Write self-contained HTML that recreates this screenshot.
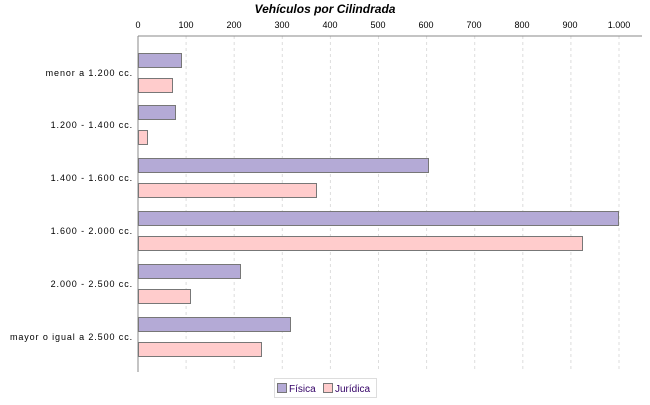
<!DOCTYPE html>
<html><head><style>
body{margin:0;background:#fff;width:650px;height:400px;overflow:hidden;font-family:"Liberation Sans",sans-serif}
</style></head><body>
<svg width="650" height="400" xmlns="http://www.w3.org/2000/svg" font-family="Liberation Sans, sans-serif">
<text x="325" y="13" text-anchor="middle" font-size="12" font-weight="bold" font-style="italic">Vehículos por Cilindrada</text>
<g stroke="#ddd" stroke-dasharray="3,3">
<line x1="186.1" y1="36" x2="186.1" y2="372"/><line x1="234.2" y1="36" x2="234.2" y2="372"/>
<line x1="282.3" y1="36" x2="282.3" y2="372"/><line x1="330.4" y1="36" x2="330.4" y2="372"/>
<line x1="378.5" y1="36" x2="378.5" y2="372"/><line x1="426.6" y1="36" x2="426.6" y2="372"/>
<line x1="474.7" y1="36" x2="474.7" y2="372"/><line x1="522.8" y1="36" x2="522.8" y2="372"/>
<line x1="570.9" y1="36" x2="570.9" y2="372"/><line x1="619" y1="36" x2="619" y2="372"/>
</g>
<line x1="138" y1="36" x2="642" y2="36" stroke="#888"/>
<line x1="138" y1="36" x2="138" y2="372" stroke="#888"/>
<g font-size="9" text-anchor="middle" fill="#000">
<text x="138" y="28">0</text><text x="186" y="28">100</text><text x="234" y="28">200</text>
<text x="282" y="28">300</text><text x="330" y="28">400</text><text x="378" y="28">500</text>
<text x="426" y="28">600</text><text x="474" y="28">700</text><text x="522" y="28">800</text>
<text x="570" y="28">900</text><text x="619" y="28">1.000</text>
</g>
<g stroke="#777" stroke-width="1">
<g fill="#b4aad6">
<rect x="138.5" y="53.5" width="43" height="14"/>
<rect x="138.5" y="105.5" width="37" height="14"/>
<rect x="138.5" y="158.5" width="290" height="14"/>
<rect x="138.5" y="211.5" width="480" height="14"/>
<rect x="138.5" y="264.5" width="102" height="14"/>
<rect x="138.5" y="317.5" width="152" height="14"/>
</g>
<g fill="#ffcccc">
<rect x="138.5" y="78.5" width="34" height="14"/>
<rect x="138.5" y="130.5" width="9" height="14"/>
<rect x="138.5" y="183.5" width="178" height="14"/>
<rect x="138.5" y="236.5" width="444" height="14"/>
<rect x="138.5" y="289.5" width="52" height="14"/>
<rect x="138.5" y="342.5" width="123" height="14"/>
</g>
</g>
<g font-size="9" text-anchor="end" fill="#000" letter-spacing="0.9">
<text x="133" y="76">menor a 1.200 cc.</text>
<text x="133" y="128">1.200 - 1.400 cc.</text>
<text x="133" y="181">1.400 - 1.600 cc.</text>
<text x="133" y="234">1.600 - 2.000 cc.</text>
<text x="133" y="287">2.000 - 2.500 cc.</text>
<text x="133" y="340">mayor o igual a 2.500 cc.</text>
</g>
<rect x="274.5" y="378.5" width="102" height="19" fill="#fff" stroke="#ddd"/>
<rect x="277.5" y="383.5" width="9" height="9" fill="#b4aad6" stroke="#777"/>
<text x="289" y="392" font-size="10" fill="#330066">Física</text>
<rect x="323.5" y="383.5" width="9" height="9" fill="#ffcccc" stroke="#777"/>
<text x="335" y="392" font-size="10" fill="#330066">Jurídica</text>
</svg>
</body></html>
